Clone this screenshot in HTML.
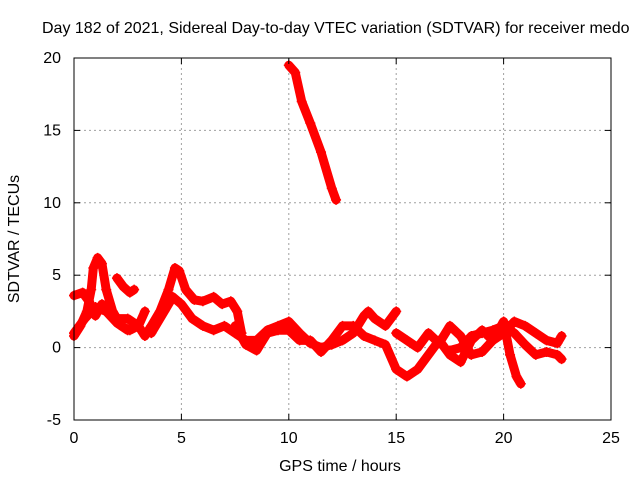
<!DOCTYPE html>
<html><head><meta charset="utf-8"><style>
body{margin:0;background:#fff;}
svg text{font-family:"Liberation Sans",sans-serif;font-size:16px;fill:#000;}
</style></head><body>
<svg id="chart" width="640" height="480" xmlns="http://www.w3.org/2000/svg">
<rect width="640" height="480" fill="#fff"/>
<text x="42" y="33">Day 182 of 2021, Sidereal Day-to-day VTEC variation (SDTVAR) for receiver medo</text>
<g id="grid"></g>
<g id="marks"></g>
<rect x="74" y="58" width="537" height="362" fill="none" stroke="#000" stroke-width="1"/>
<g id="ticks"></g>
<text x="340" y="471" text-anchor="middle">GPS time / hours</text>
<text transform="translate(19,239) rotate(-90)" text-anchor="middle">SDTVAR / TECUs</text>
</svg>
<script>
const xTicks=[0,5,10,15,20,25];
const yTicks=[-5,0,5,10,15,20];
const track1X=[0,0.3,0.6,0.8,0.9,1.1,1.3,1.5,1.8,2.2,2.6,3.0,3.3];
const track1Y=[0.8,1.5,2.5,4,5.5,6.2,5.8,4,2.5,1.5,1.2,1.5,2.5];
const track2X=[0,0.4,0.7,1.0,1.3,1.7,2.0,2.5,3.0,3.3,3.6,4.0,4.4,4.7,4.9,5.2,5.6,6.0,6.5,6.9,7.3,7.6,7.8];
const track2Y=[3.6,3.8,3.2,2.2,3,2.5,2,2,1.5,0.8,1.5,2.5,4,5.5,5.3,4,3.3,3.2,3.5,3,3.2,2.5,1];
const track3X=[0,0.5,1.0,1.5,2.0,2.5];
const track3Y=[1,2,2.8,2.5,1.7,1.2];
const track4X=[2.0,2.3,2.6,2.8];
const track4Y=[4.8,4.2,3.8,4];
const track5X=[3.6,4.2,4.6,5.0,5.5,6.0,6.5,7.0,7.5,8.0,8.5,9.0,9.5,10,10.5,11,11.5,12,12.5,13,13.5,13.7,14,14.5,15];
const track5Y=[1,2.5,3.5,3,2,1.5,1.2,1.5,1,0.5,0.5,1.2,1.5,1.8,1,0.3,0,0.2,0.5,1,2.2,2.5,2,1.5,2.5];
const track6X=[7.5,8,8.5,9,9.5,10,10.5,11,11.5,12,12.5,13,13.5,14,14.5,15,15.5,16,16.5,17,17.5,18,18.5,19,19.5,20,20.3,20.6,20.8];
const track6Y=[1.5,0.2,-0.2,1,1.2,1.2,0.5,0.5,-0.3,0.5,1.5,1.5,0.8,0.5,0.2,-1.5,-2,-1.5,-0.5,0.5,-0.5,-1,0.5,1.2,0.5,1.8,-0.5,-2,-2.5];
const track7X=[15,15.5,16,16.5,17,17.5,18,18.5,19,19.5,20,20.5,21,21.5,22,22.5,22.7];
const track7Y=[1,0.5,0,1,0.3,1.5,0.8,-0.5,-0.3,0.5,1,1.8,1.5,1,0.5,0.3,0.8];
const track8X=[17.5,18,18.5,19,19.5,20,20.5,21,21.5,22,22.5,22.7];
const track8Y=[-0.2,0,0.8,1,1.2,1.5,1,0.2,-0.5,-0.3,-0.5,-0.8];
const track9X=[10,10.3,10.6,11,11.5,12,12.2];
const track9Y=[19.5,19,17,15.5,13.5,11,10.2];
const tracks=[[track1X,track1Y],[track2X,track2Y],[track3X,track3Y],[track4X,track4Y],[track5X,track5Y],[track6X,track6Y],[track7X,track7Y],[track8X,track8Y],[track9X,track9Y]];
const NS="http://www.w3.org/2000/svg";
const X0=74,X1=611,Y0=420,Y1=58;
function sx(v){return X0+(v-0)/(25-0)*(X1-X0);}
function sy(v){return Y0-(v-(-5))/(20-(-5))*(Y0-Y1);}
function mk(t,a,p){const e=document.createElementNS(NS,t);for(const k in a)e.setAttribute(k,a[k]);p.appendChild(e);return e;}
const grid=document.getElementById('grid'),ticks=document.getElementById('ticks'),marks=document.getElementById('marks');
xTicks.forEach(v=>{
  const x=sx(v);
  if(v>0&&v<25){const g=mk('line',{x1:x,x2:x,y1:Y1,y2:Y0,stroke:'#a0a0a0','stroke-dasharray':'2,3'},grid);
  
  }
  mk('line',{x1:x,x2:x,y1:Y0,y2:Y0-6,stroke:'#000'},ticks);
  mk('line',{x1:x,x2:x,y1:Y1,y2:Y1+6,stroke:'#000'},ticks);
  const t=mk('text',{x:x,y:443,'text-anchor':'middle'},ticks);t.textContent=v;
  
  
});
yTicks.forEach(v=>{
  const y=sy(v);
  if(v>-5&&v<20){const g=mk('line',{x1:X0,x2:X1,y1:y,y2:y,stroke:'#a0a0a0','stroke-dasharray':'2,3'},grid);
  
  }
  mk('line',{x1:X0,x2:X0+6,y1:y,y2:y,stroke:'#000'},ticks);
  mk('line',{x1:X1,x2:X1-6,y1:y,y2:y,stroke:'#000'},ticks);
  const t=mk('text',{x:61,y:y+5,'text-anchor':'end'},ticks);t.textContent=v;
  
  
});
tracks.forEach((tr,i)=>{
  const [xs,ys]=tr;
  const pts=xs.map((x,j)=>sx(x)+','+sy(ys[j])).join(' ');
  const pl=mk('polyline',{points:pts,fill:'none',stroke:'#ff0000','stroke-width':9,'stroke-linejoin':'round','stroke-linecap':'round'},marks);
  
  
  xs.forEach((x,j)=>{
    const cx=sx(x),cy=sy(ys[j]);
    const p=mk('path',{d:`M${cx-5},${cy}h10M${cx},${cy-5}v10`,stroke:'#ff0000','stroke-width':1.5},marks);
    
    
  });
});
</script>
</body></html>
